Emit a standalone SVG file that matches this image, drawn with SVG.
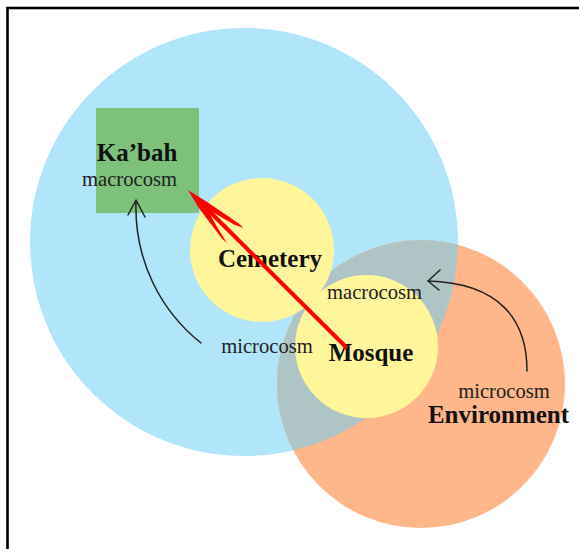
<svg xmlns="http://www.w3.org/2000/svg" width="579" height="549" viewBox="0 0 579 549">
<style>
.b{font-family:"Liberation Serif","Times New Roman",serif;font-weight:bold;font-size:25px;fill:#111;text-anchor:middle}
.n{font-family:"Liberation Serif","Times New Roman",serif;font-size:20.6px;fill:#222;text-anchor:middle}
.c{fill:none;stroke:#222;stroke-width:1.5;stroke-linecap:round;stroke-linejoin:round}
</style>
<defs>
<clipPath id="blueclip"><circle cx="244" cy="242" r="214"/></clipPath>
</defs>
<rect width="579" height="549" fill="#fff"/>
<rect x="7.5" y="8" width="650" height="650" fill="none" stroke="#000" stroke-width="2.6"/>
<g id="macro">
<circle cx="244" cy="242" r="214" fill="#B1E5F9"/>
</g>
<g id="environment">
<circle cx="421" cy="384" r="144" fill="#FFB68A"/>
<circle cx="421" cy="384" r="144" fill="#AFC4C5" clip-path="url(#blueclip)"/>
<text class="n" x="504" y="398">microcosm</text>
<text class="b" x="498.5" y="423">Environment</text>
</g>
<g id="kabah">
<rect x="96" y="108" width="103" height="105" fill="#7DC17B"/>
<text class="b" x="137" y="161">Ka’bah</text>
<text class="n" x="129.5" y="186">macrocosm</text>
</g>
<g id="cemetery">
<circle cx="262" cy="250" r="72" fill="#FFF59A"/>
<text class="b" x="270" y="267">Cemetery</text>
</g>
<g id="mosque">
<circle cx="366.5" cy="346.5" r="71.5" fill="#FFF59A"/>
<text class="n" x="374.5" y="299">macrocosm</text>
<text class="b" x="371" y="361">Mosque</text>
</g>
<text class="n" x="267" y="353">microcosm</text>
<g id="connectors">
<path class="c" d="M201,343 C162,312 134,262 136,201"/>
<path class="c" d="M128,215 L136,200 L145,217"/>
<path class="c" d="M527,371 C527,320 500,283 428,281"/>
<path class="c" d="M440,270 L428,281 L439,290"/>
<line x1="347" y1="348" x2="200" y2="202" stroke="#FF0000" stroke-width="4"/>
<g transform="translate(188,190) rotate(44.8)">
<path d="M0,0 L22,-5 L44,-9 L60,-12 L66,-12 L57,-8 L38,-3 L32,-1.5 L32,1.5 L40,4 L56,8 L65,10 L58,10.5 L40,8 L20,5 Z" fill="#FF0000"/>
</g>
</g>
</svg>
